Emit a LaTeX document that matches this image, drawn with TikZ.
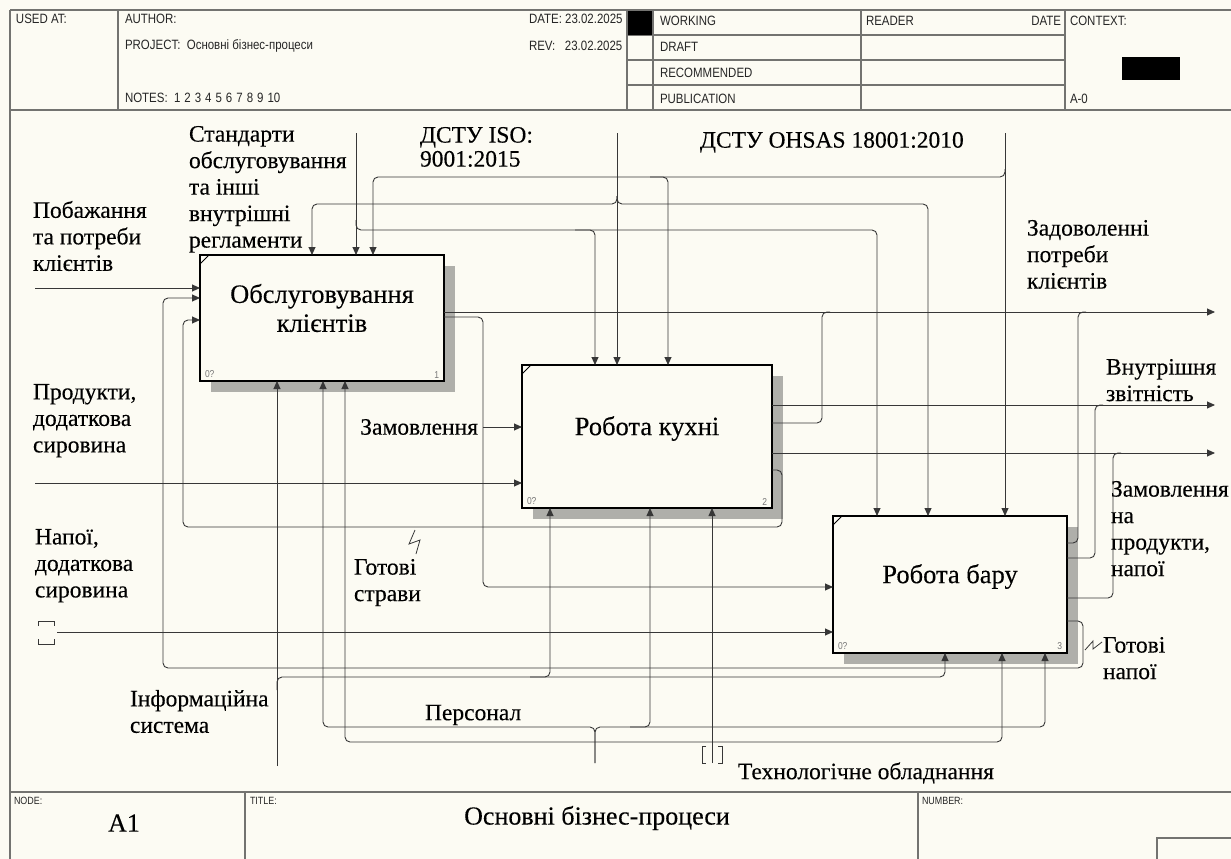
\documentclass[tikz,border=0pt]{standalone}
\usepackage{fontspec}
\setmainfont{Liberation Serif}[FakeBold=0.25]
\newfontfamily\hdrfont{Liberation Sans}[FakeStretch=0.85]
\usetikzlibrary{arrows.meta}
\pgfdeclarelayer{paperlayer}
\pgfdeclarelayer{bg}
\pgfsetlayers{paperlayer,bg,main}
\definecolor{paper}{RGB}{252,251,243}
\definecolor{ink}{RGB}{55,55,55}
\definecolor{rule}{RGB}{115,115,112}
\definecolor{shadowgray}{RGB}{175,175,170}
\definecolor{numgray}{RGB}{120,120,120}

\begin{document}
\begin{tikzpicture}[x=1pt,y=-1pt,
  every node/.style={inner sep=0pt,outer sep=0pt},
  frame/.style={draw=rule,line width=1.2pt},
  flow/.style={draw=ink,line width=0.9pt,rounded corners=5pt},
  tip/.style={-{Triangle[length=8pt,width=7pt]}},
  twotip/.style={{Triangle[length=8pt,width=7pt]}-{Triangle[length=8pt,width=7pt]}},
  actbox/.style={draw=black,line width=1.9pt,fill=paper},
  boxtext/.style={font=\fontsize{26.5}{29}\selectfont,align=center},
  lbl/.style={font=\fontsize{23.5}{26.5}\selectfont,align=left},
  hdr/.style={font=\hdrfont\fontsize{13.5}{15}\selectfont,text=black!85},
  ftr/.style={font=\hdrfont\fontsize{10.5}{12}\selectfont,text=black!85},
  numtxt/.style={font=\hdrfont\fontsize{10}{11}\selectfont,text=numgray}]

% sheet
\useasboundingbox (0,0) rectangle (1231,859);
\begin{pgfonlayer}{paperlayer}
  \fill[paper] (0,0) rectangle (1231,859);
\end{pgfonlayer}

% ---------- header form ----------
\draw[frame] (10,10) -- (1231,10);
\draw[frame] (10,10) -- (10,859);
\draw[frame] (10,110) -- (1231,110);
\draw[frame] (118,10) -- (118,110);
\draw[frame] (627,10) -- (627,110);
\draw[frame] (653,10) -- (653,110);
\draw[frame] (861,10) -- (861,110);
\draw[frame] (1065,10) -- (1065,110);
\draw[frame] (627,35) -- (1065,35);
\draw[frame] (627,60) -- (1065,60);
\draw[frame] (627,85) -- (1065,85);
\fill[black] (628,11) rectangle (652,35);
\fill[black] (1122,57) rectangle (1180,80);

\node[hdr,anchor=west] (hUsed) at (16,19) {USED AT:};
\node[hdr,anchor=west] (hAuthor) at (125,19) {AUTHOR:};
\node[hdr,anchor=west] (hProject) at (125,46) {PROJECT:\ \ Основні бізнес-процеси};
\node[hdr,anchor=west] (hNotes) at (125,98) {NOTES:\ \ 1\hspace{4pt}2\hspace{4pt}3\hspace{4pt}4\hspace{4pt}5\hspace{4pt}6\hspace{4pt}7\hspace{4pt}8\hspace{4pt}9\hspace{4pt}10};
\node[hdr,anchor=west] (hDate) at (529,19) {DATE:\ 23.02.2025};
\node[hdr,anchor=west] (hRev) at (529,46) {REV:\ \ \ 23.02.2025};
\node[hdr,anchor=west] (hWork) at (660,21) {WORKING};
\node[hdr,anchor=west] (hDraft) at (660,47) {DRAFT};
\node[hdr,anchor=west] (hRec) at (660,73) {RECOMMENDED};
\node[hdr,anchor=west] (hPub) at (660,99) {PUBLICATION};
\node[hdr,anchor=west] (hReader) at (866,21) {READER};
\node[hdr,anchor=east] (hRDate) at (1061,21) {DATE};
\node[hdr,anchor=west] (hCtx) at (1070,21) {CONTEXT:};
\node[hdr,anchor=west] (hA0) at (1070,99) {A-0};

% ---------- footer form ----------
\draw[frame] (10,792) -- (1231,792);
\draw[frame] (245,792) -- (245,859);
\draw[frame] (918,792) -- (918,859);
\draw[frame] (1157,859) -- (1157,838) -- (1231,838);
\node[ftr,anchor=west] (fNode) at (14,801) {NODE:};
\node[ftr,anchor=west] (fTitle) at (250,801) {TITLE:};
\node[ftr,anchor=west] (fNum) at (922,801) {NUMBER:};
\node[font=\fontsize{26}{30}\selectfont] (fA1) at (124,823) {A1};
\node[font=\fontsize{26}{30}\selectfont] (fName) at (597,818) {Основні бізнес-процеси};

% ---------- activity boxes ----------
\node[actbox,minimum width=244pt,minimum height=126pt] (b1) at (322,318) {};
\node[actbox,minimum width=250pt,minimum height=143pt] (b2) at (647,436.5) {};
\node[actbox,minimum width=234pt,minimum height=137pt] (b3) at (950,584.5) {};

\begin{pgfonlayer}{bg}
  \foreach \b in {b1,b2,b3}
    \fill[shadowgray] ([shift={(11pt,-11pt)}]\b.north west) rectangle ([shift={(11pt,-11pt)}]\b.south east);
\end{pgfonlayer}

\node[boxtext] (t1) at ([yshift=10pt]b1.center) {Обслуговування\\клієнтів};
\node[boxtext] (t2) at ([yshift=8pt]b2.center) {Робота кухні};
\node[boxtext] (t3) at ([yshift=8pt]b3.center) {Робота бару};

\foreach \b/\n in {b1/1,b2/2,b3/3}{
  \draw[line width=0.8pt] ([yshift=-9pt]\b.north west) -- ([xshift=9pt]\b.north west);
  \node[numtxt,anchor=south west] (\b cost) at ([shift={(5pt,3pt)}]\b.south west) {0?};
  \node[numtxt,anchor=south east] (\b num) at ([shift={(-5pt,3pt)}]\b.south east) {\n};
}

% ---------- controls ----------
\coordinate (cStd) at (356,133);
\coordinate (cIso) at (617,133);
\coordinate (cOhs) at (1005,133);

\draw[flow,tip] (cStd) -- (cStd |- b1.north);
\draw[flow,tip] (356,220) -- (356,230) -- (877,230) -- (b3.north -| 877,0);
\draw[flow,tip] (575,230) -- (595,230) -- (b2.north -| 595,0);

\draw[flow,tip] (cIso) -- (cIso |- b2.north);
\draw[flow,tip] (617,196) -- (617,204) -- (312,204) -- (b1.north -| 312,0);
\draw[flow,tip] (617,196) -- (617,204) -- (928,204) -- (b3.north -| 928,0);

\draw[flow,tip] (cOhs) -- (cOhs |- b3.north);
\draw[flow,tip] (1005,169) -- (1005,177) -- (373,177) -- (b1.north -| 373,0);
\draw[flow,tip] (650,177) -- (668,177) -- (b2.north -| 668,0);

% ---------- inputs ----------
\coordinate (iWish) at (35,288);
\coordinate (iFood) at (35,483);
\coordinate (iDrink) at (57,632);
\draw[flow,tip] (iWish) -- (b1.west |- iWish);
\draw[flow,tip] (iFood) -- (b2.west |- iFood);
\draw[flow,tip] (iDrink) -- (b3.west |- iDrink);
\draw[ink,line width=0.8pt] (38,626) -- (38,621) -- (54,621) -- (54,626);
\draw[ink,line width=0.8pt] (38,639) -- (38,644) -- (54,644) -- (54,639);

% ---------- feedback loops ----------
\draw[flow,tip] (b3.east |- 0,621) -- (1083,621) -- (1083,668) -- (163,668) -- (163,298) -- (b1.west |- 0,298);
\draw[flow,tip] (b2.east |- 0,470) -- (782,470) -- (782,527) -- (183,527) -- (183,320) -- (b1.west |- 0,320);

% ---------- outputs ----------
\coordinate (oSat) at (1215,312);
\coordinate (oRep) at (1215,405);
\coordinate (oOrd) at (1215,453);
\draw[flow,tip] (b1.east |- oSat) -- (oSat);
\draw[flow,tip] (b1.east |- 0,317) -- (483,317) -- (483,587) -- (b3.west |- 0,587);
\draw[flow,tip] (483,427) -- (b2.west |- 0,427);
\draw[flow] (b2.east |- 0,423) -- (822,423) -- (822,312) -- (830,312);
\draw[flow,tip] (b2.east |- oRep) -- (oRep);
\draw[flow,tip] (b2.east |- oOrd) -- (oOrd);
\draw[flow] (b3.east |- 0,543) -- (1078,543) -- (1078,312) -- (1086,312);
\draw[flow] (b3.east |- 0,558) -- (1095,558) -- (1095,405) -- (1103,405);
\draw[flow] (b3.east |- 0,598) -- (1113,598) -- (1113,453) -- (1121,453);

% ---------- mechanisms ----------
\coordinate (mInfo) at (277,766);
\coordinate (mStaff) at (595,763);
\coordinate (mTech) at (712,763);

\draw[flow,tip] (mInfo) -- (mInfo |- b1.south);
\draw[flow,tip] (277,690) -- (277,677) -- (945,677) -- (b3.south -| 945,0);
\draw[flow,tip] (530,677) -- (550,677) -- (b2.south -| 550,0);

\draw[flow,tip] (mStaff) -- (595,727) -- (323,727) -- (b1.south -| 323,0);
\draw[flow,tip] (mStaff) -- (595,727) -- (1045,727) -- (b3.south -| 1045,0);
\draw[flow,tip] (630,727) -- (650,727) -- (b2.south -| 650,0);
\draw[flow,twotip] (b1.south -| 345,0) -- (345,742) -- (1002,742) -- (b3.south -| 1002,0);

\draw[flow,tip] (mTech) -- (mTech |- b2.south);
\draw[ink,line width=0.8pt] (706,746) -- (702,746) -- (702,763) -- (706,763);
\draw[ink,line width=0.8pt] (718,746) -- (722,746) -- (722,763) -- (718,763);

% ---------- arrow labels ----------
\node[lbl,anchor=north west] (lStd) at (189,126) {Стандарти\\обслуговування\\та інші\\внутрішні\\регламенти};
\node[lbl,anchor=north west,font=\fontsize{23.5}{24}\selectfont] (lIso) at (420,127) {ДСТУ ISO:\\9001:2015};
\node[lbl,anchor=north west] (lOhs) at (700,132) {ДСТУ OHSAS 18001:2010};
\node[lbl,anchor=north west] (lWish) at (33,201) {Побажання\\та потреби\\клієнтів};
\node[lbl,anchor=north west] (lFood) at (33,384) {Продукти,\\додаткова\\сировина};
\node[lbl,anchor=north west] (lDrink) at (35,529) {Напої,\\додаткова\\сировина};
\node[lbl,anchor=east] (lOrder) at (478,427) {Замовлення};
\node[lbl,anchor=north west] (lDish) at (354,559) {Готові\\страви};
\node[lbl,anchor=north west] (lInfo) at (130,690) {Інформаційна\\система};
\node[lbl,anchor=west] (lStaff) at (425,715) {Персонал};
\node[lbl,anchor=west] (lTech) at (738,773) {Технологічне обладнання};
\node[lbl,anchor=north west] (lSat) at (1027,220) {Задоволенні\\потреби\\клієнтів};
\node[lbl,anchor=north west] (lRep) at (1106,359) {Внутрішня\\звітність};
\node[lbl,anchor=north west] (lOrd) at (1111,481) {Замовлення\\на\\продукти,\\напої};
\node[lbl,anchor=north west] (lDrk) at (1103,637) {Готові\\напої};

% squiggles tying labels to their arrows
\draw[ink,line width=0.8pt] (415,530) -- (409,544) -- (420,540) -- (416,554);
\draw[ink,line width=0.8pt] (1085,650) -- (1093,641) -- (1093,649) -- (1102,642);

\end{tikzpicture}
\end{document}
